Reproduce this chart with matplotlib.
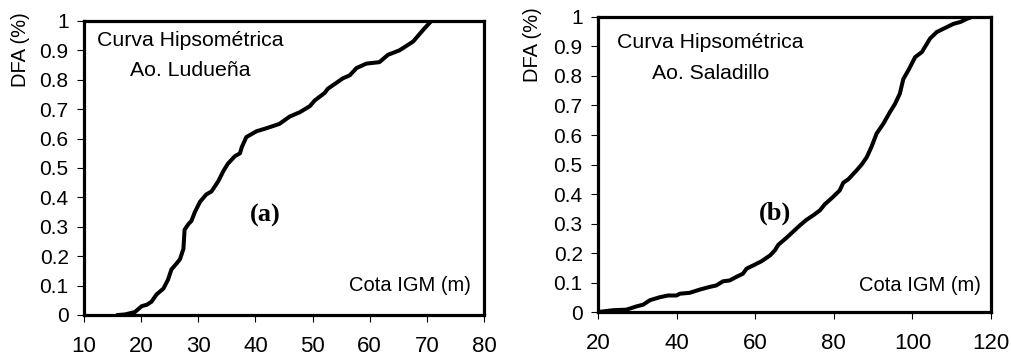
import matplotlib
matplotlib.use("Agg")
import matplotlib.pyplot as plt

plt.rcParams["font.family"] = ["Liberation Sans", "DejaVu Sans"]

# Ao. Ludueña hypsometric curve: elevation (m) vs cumulative area fraction
lud_cota = [16, 17.2, 18.9, 20.1, 21, 21.8, 22.7, 23.9, 24.7, 25.3, 26.2, 26.8,
            27.4, 27.6, 28.3, 28.8, 29.4, 30.3, 31.4, 32.3, 33.5, 34.4, 35.2,
            36.4, 37.3, 37.6, 38.4, 40.2, 41.9, 44.2, 46, 47.8, 49.5, 50.4,
            52.1, 52.7, 54.2, 55.3, 56.5, 57.7, 59.4, 61.7, 63.2, 65.2, 67.6,
            68.7, 69.6, 70.8]
lud_dfa = [0, 0.002, 0.01, 0.03, 0.035, 0.045, 0.07, 0.09, 0.12, 0.155, 0.175,
           0.19, 0.225, 0.29, 0.31, 0.32, 0.35, 0.385, 0.41, 0.42, 0.455, 0.49,
           0.515, 0.54, 0.55, 0.57, 0.605, 0.625, 0.635, 0.65, 0.675, 0.69,
           0.71, 0.73, 0.755, 0.77, 0.79, 0.805, 0.815, 0.84, 0.855, 0.86,
           0.885, 0.9, 0.93, 0.955, 0.975, 1.0]

# Ao. Saladillo
sal_cota = [20, 23.8, 27.2, 29.8, 31.5, 33.2, 35.7, 37.8, 40, 40.8, 43.3, 45.9,
            48.4, 50.1, 51.8, 53.5, 55.2, 56.9, 57.8, 59.5, 61.6, 63.8, 65,
            65.9, 68, 69.7, 71.4, 73.1, 74.8, 76.5, 77.7, 79.8, 81.5, 82.4,
            83.7, 85.8, 87.1, 88.4, 89.6, 90.9, 92.6, 94.3, 95.6, 96.8, 97.7,
            99, 100.7, 102.4, 104.5, 106.2, 108.8, 110.5, 112.2, 113.9, 115.1]
sal_dfa = [0, 0.006, 0.008, 0.019, 0.025, 0.04, 0.05, 0.056, 0.056, 0.062,
           0.065, 0.076, 0.085, 0.09, 0.104, 0.107, 0.119, 0.13, 0.147, 0.158,
           0.172, 0.192, 0.209, 0.228, 0.252, 0.273, 0.294, 0.313, 0.328,
           0.345, 0.365, 0.39, 0.412, 0.438, 0.45, 0.48, 0.5, 0.525, 0.56,
           0.605, 0.638, 0.678, 0.706, 0.74, 0.79, 0.82, 0.864, 0.881, 0.927,
           0.949, 0.966, 0.977, 0.983, 0.994, 1.0]

y_ticks = [0, 0.1, 0.2, 0.3, 0.4, 0.5, 0.6, 0.7, 0.8, 0.9, 1]
y_labels = ["0", "0.1", "0.2", "0.3", "0.4", "0.5", "0.6", "0.7", "0.8", "0.9", "1"]

fig = plt.figure(figsize=(10.11, 3.6), dpi=100)
ax1 = fig.add_axes([0.0831, 0.125, 0.3956, 0.8167])
ax2 = fig.add_axes([0.5915, 0.1333, 0.3887, 0.8195])


def style(ax, xlim, xticks):
    ax.set_xlim(*xlim)
    ax.set_ylim(0, 1)
    ax.set_xticks(xticks)
    ax.set_yticks(y_ticks)
    ax.set_yticklabels(y_labels)
    for s in ax.spines.values():
        s.set_linewidth(2.3)
    ax.tick_params(axis="x", direction="out", length=5, width=0.8, pad=10, labelsize=16)
    ax.tick_params(axis="y", direction="out", length=5, width=0.8, pad=6, labelsize=15)


ax1.plot(lud_cota, lud_dfa, color="black", lw=2.9, solid_joinstyle="round")
style(ax1, (10, 80), [10, 20, 30, 40, 50, 60, 70, 80])
ax1.text(0.265, 0.935, "Curva Hipsométrica", transform=ax1.transAxes,
         ha="center", va="center", fontsize=15.3)
ax1.text(0.265, 0.833, "Ao. Ludueña", transform=ax1.transAxes,
         ha="center", va="center", fontsize=15.3)
ax1.text(0.4525, 0.34, "(a)", transform=ax1.transAxes, ha="center", va="center",
         fontsize=19, fontweight="bold", family="Liberation Serif")
ax1.text(0.9675, 0.099, "Cota IGM (m)", transform=ax1.transAxes,
         ha="right", va="center", fontsize=14.5)

ax2.plot(sal_cota, sal_dfa, color="black", lw=2.9, solid_joinstyle="round")
style(ax2, (20, 120), [20, 40, 60, 80, 100, 120])
ax2.text(0.286, 0.912, "Curva Hipsométrica", transform=ax2.transAxes,
         ha="center", va="center", fontsize=15.3)
ax2.text(0.286, 0.807, "Ao. Saladillo", transform=ax2.transAxes,
         ha="center", va="center", fontsize=15.3)
ax2.text(0.45, 0.336, "(b)", transform=ax2.transAxes, ha="center", va="center",
         fontsize=19, fontweight="bold", family="Liberation Serif")
ax2.text(0.9745, 0.0915, "Cota IGM (m)", transform=ax2.transAxes,
         ha="right", va="center", fontsize=14.5)

fig.text(20 / 1011, 1 - 50 / 360, "DFA (%)", rotation=90, ha="center", va="center", fontsize=14.5)
fig.text(533 / 1011, 1 - 45 / 360, "DFA (%)", rotation=90, ha="center", va="center", fontsize=14.5)

fig.savefig("out.png", dpi=100)
